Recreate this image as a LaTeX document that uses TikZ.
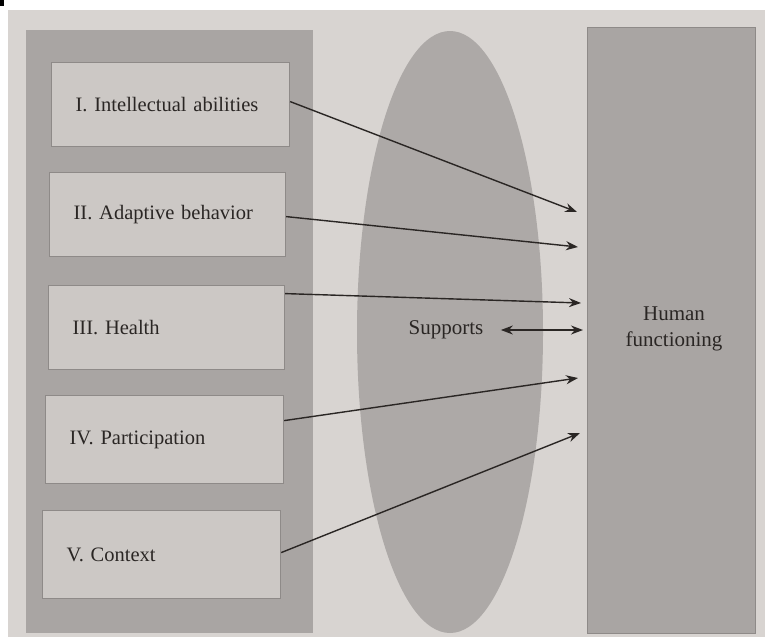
\documentclass[tikz,border=0pt]{standalone}
\usepackage{fontspec}
\setmainfont{Liberation Serif}
\usetikzlibrary{arrows.meta}
\definecolor{pagebg}{HTML}{D8D4D1}
\definecolor{panelgrey}{HTML}{A9A5A3}
\definecolor{boxgrey}{HTML}{CCC8C5}
\definecolor{boxedge}{HTML}{8E8A88}
\definecolor{ellgrey}{HTML}{ADA9A7}
\definecolor{inkc}{HTML}{2A2624}
\tikzset{
  catbox/.style={draw=boxedge, line width=1.2pt, fill=boxgrey, anchor=north west,
    minimum height=84pt, text width=210pt, inner xsep=24pt, align=left,
    font=\fontsize{20.5}{24}\selectfont, text=inkc},
  conn/.style={draw=inkc, line width=1.4pt, -{Stealth[length=12pt,width=9pt]}},
  lbl/.style={font=\fontsize{21}{26}\selectfont, text=inkc, align=center}
}
\begin{document}
\begin{tikzpicture}[x=1pt,y=-1pt]
\useasboundingbox (0,0) rectangle (765,637);
\fill[white] (0,0) rectangle (765,637);
\fill[pagebg] (8,10) rectangle (765,637);
\fill[black] (0,0) rectangle (4,6);
% left panel
\fill[panelgrey] (26,30) rectangle (313,633);
% ellipse
\fill[ellgrey] (450,332) ellipse [x radius=93, y radius=301];
% right rectangle
\node[draw=boxedge, line width=0.8pt, fill=panelgrey, minimum width=168pt, minimum height=606pt, anchor=north west] (hum) at (587,27) {};
\node[lbl] (humtxt) at (674,329) {Human\\functioning};
% category boxes
\node[catbox, minimum width=237pt, text width=190pt] (b1) at (51,62) {I. Intellectual abilities};
\node[catbox, minimum width=235pt, text width=188pt] (b2) at (49,172) {II. Adaptive behavior};
\node[catbox, minimum width=235pt, text width=188pt] (b3) at (48,285) {III. Health};
\node[catbox, minimum width=238pt, text width=190pt, minimum height=88pt] (b4) at (45,395) {IV. Participation};
\node[catbox, minimum width=238pt, text width=190pt, minimum height=88pt] (b5) at (42,510) {V. Context};
% supports
\node[lbl] (sup) at (446,330) {Supports};
% arrow end points
\coordinate (e1) at (577,212);
\coordinate (e2) at (578,247);
\coordinate (e3) at (581,303);
\coordinate (e0) at (583,330);
\coordinate (e4) at (578,378);
\coordinate (e5) at (580,433);
\draw[conn] ([yshift=3pt]b1.east) -- (e1);
\draw[conn] ([yshift=-2pt]b2.east) -- (e2);
\draw[conn] ([yshift=34pt]b3.east) -- (e3);
\draw[conn] ([yshift=19pt]b4.east) -- (e4);
\draw[conn] ([yshift=2pt]b5.east) -- (e5);
\draw[conn, {Stealth[length=12pt,width=9pt]}-{Stealth[length=12pt,width=9pt]}] ([xshift=14pt]sup.east) -- (e0);
\end{tikzpicture}
\end{document}
